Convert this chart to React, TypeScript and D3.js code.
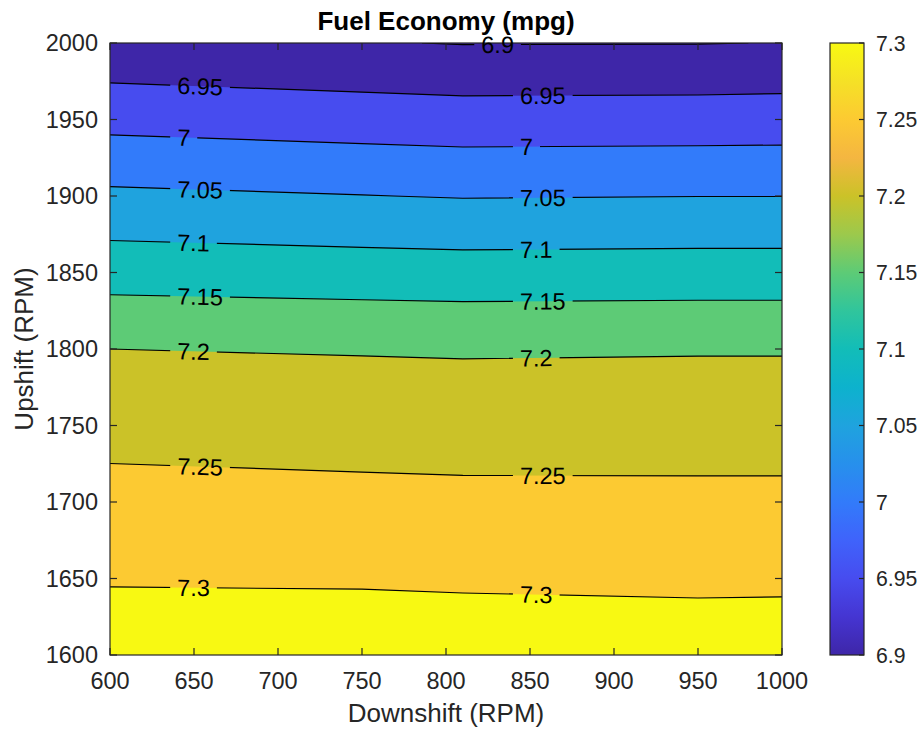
import React from "react";
import * as d3 from "d3";

// Fuel economy (mpg) sampled on the shift-speed grid
const downshiftRpm = [600, 750, 810, 950, 1000];
const upshiftRpm = [1600, 1700, 1800, 1900, 2000];
const mpgUp1600 = [7.3266, 7.328, 7.3263, 7.3232, 7.324];
const mpgUp1700 = [7.2668, 7.2629, 7.2614, 7.2609, 7.2609];
const mpgUp1800 = [7.2, 7.197, 7.1958, 7.197, 7.197];
const mpgUp1900 = [7.059, 7.051, 7.0478, 7.0495, 7.0495];
const mpgUp2000 = [6.9115, 6.9022, 6.8985, 6.8988, 6.9008];

const contourLevels = [6.9, 6.95, 7, 7.05, 7.1, 7.15, 7.2, 7.25, 7.3];
const downshiftTicks = [600, 650, 700, 750, 800, 850, 900, 950, 1000];
const upshiftTicks = [1600, 1650, 1700, 1750, 1800, 1850, 1900, 1950, 2000];
const colorbarTicks = [6.9, 6.95, 7, 7.05, 7.1, 7.15, 7.2, 7.25, 7.3];

// parula-style colour map, evenly spaced stops from low to high
const parulaStops = [
  "#3e26a8", "#4535d2", "#474cef", "#3f63fb", "#327bfa", "#2790ec",
  "#1fa3de", "#0db2cd", "#12bdb8", "#30c59c", "#5dcb76", "#9cc94c",
  "#cbc228", "#f4b641", "#fcca32", "#f5e126", "#f8f912",
];

// layout
const W = 922;
const H = 731;
const PLOT = { left: 110, right: 782, top: 43, bottom: 655 };
const CBAR = { left: 830, right: 864 };
const FONT = "'Liberation Sans', Arial, Helvetica, sans-serif";
const AXIS_COLOR = "#262626";
const TICK_FONT = 23.5;
const LABEL_FONT = 26;
const CBAR_FONT = 21.2;
const CLABEL_FONT = 23.5;
const TICK_LEN = 7;
const LINE_W = 1.2;

// where inline contour labels begin (downshift RPM)
const labelStarts = [640, 844];
const lowestLabelStart = 821;

function textWidth(s: string, size: number) {
  let w = 0;
  for (const c of s) w += c === "." ? 0.278 : 0.556;
  return w * size;
}

type Pt = [number, number];

export default function App() {
  const x = d3.scaleLinear().domain([600, 1000]).range([PLOT.left, PLOT.right]);
  const y = d3.scaleLinear().domain([1600, 2000]).range([PLOT.bottom, PLOT.top]);
  const nx = downshiftRpm.length;
  const ny = upshiftRpm.length;
  const colRpm = d3.scaleLinear().domain(downshiftRpm.map((_, i) => i)).range(downshiftRpm);
  const rowRpm = d3.scaleLinear().domain(upshiftRpm.map((_, i) => i)).range(upshiftRpm);
  const rows = [mpgUp1600, mpgUp1700, mpgUp1800, mpgUp1900, mpgUp2000];
  const values = rows.flat();

  const cmap = d3
    .scaleLinear<string>()
    .domain(parulaStops.map((_, i) => i / (parulaStops.length - 1)))
    .range(parulaStops)
    .interpolate(d3.interpolateRgb)
    .clamp(true);
  const tOf = d3.scaleLinear().domain([6.9, 7.3]).range([0, 1]);

  const toPx = (p: number[]): Pt => {
    const gi = Math.max(0, Math.min(nx - 1, p[0] - 0.5));
    const gj = Math.max(0, Math.min(ny - 1, p[1] - 0.5));
    return [x(colRpm(gi)), y(rowRpm(gj))];
  };

  const bands = d3.contours().size([nx, ny]).thresholds(contourLevels)(values);

  const eps = 0.01;
  const sameBorder = (a: Pt, b: Pt) =>
    (Math.abs(a[0] - PLOT.left) < eps && Math.abs(b[0] - PLOT.left) < eps) ||
    (Math.abs(a[0] - PLOT.right) < eps && Math.abs(b[0] - PLOT.right) < eps) ||
    (Math.abs(a[1] - PLOT.top) < eps && Math.abs(b[1] - PLOT.top) < eps) ||
    (Math.abs(a[1] - PLOT.bottom) < eps && Math.abs(b[1] - PLOT.bottom) < eps);

  const bandData = bands.map((b) => {
    const rings: Pt[][] = [];
    b.coordinates.forEach((poly) => poly.forEach((ring) => rings.push(ring.map(toPx))));
    const fillPath = rings
      .map((r) => "M" + r.map((p) => `${p[0].toFixed(2)},${p[1].toFixed(2)}`).join("L") + "Z")
      .join("");
    const segs: [Pt, Pt][] = [];
    let linePath = "";
    rings.forEach((r) => {
      let open = false;
      for (let i = 0; i < r.length; i++) {
        const a = r[i];
        const c = r[(i + 1) % r.length];
        const len = Math.hypot(c[0] - a[0], c[1] - a[1]);
        if (len < 1e-6 || sameBorder(a, c)) {
          open = false;
          continue;
        }
        segs.push([a, c]);
        if (!open) linePath += `M${a[0].toFixed(2)},${a[1].toFixed(2)}`;
        linePath += `L${c[0].toFixed(2)},${c[1].toFixed(2)}`;
        open = true;
      }
    });
    return { value: b.value, fillPath, linePath, segs };
  });

  const lineAt = (segs: [Pt, Pt][], px: number) => {
    for (const [a, b] of segs) {
      const lo = Math.min(a[0], b[0]);
      const hi = Math.max(a[0], b[0]);
      if (px >= lo && px <= hi && hi - lo > 1e-6) {
        const t = (px - a[0]) / (b[0] - a[0]);
        const yy = a[1] + t * (b[1] - a[1]);
        let ang = (Math.atan2(b[1] - a[1], b[0] - a[0]) * 180) / Math.PI;
        if (ang > 90) ang -= 180;
        if (ang < -90) ang += 180;
        return { y: yy, angle: ang };
      }
    }
    return null;
  };

  const labels: { text: string; cx: number; cy: number; angle: number; w: number }[] = [];
  bandData.forEach((bd) => {
    const text = String(bd.value);
    const w = textWidth(text, CLABEL_FONT);
    const starts = bd.value === contourLevels[0] ? [lowestLabelStart] : labelStarts;
    starts.forEach((s) => {
      const cx = x(s) + w / 2;
      const hit = lineAt(bd.segs, cx);
      if (hit) labels.push({ text, cx, cy: hit.y, angle: hit.angle, w });
    });
  });

  const plotW = PLOT.right - PLOT.left;
  const plotH = PLOT.bottom - PLOT.top;
  const cbY = d3.scaleLinear().domain([6.9, 7.3]).range([PLOT.bottom, PLOT.top]);

  return (
    <svg
      width={W}
      height={H}
      viewBox={`0 0 ${W} ${H}`}
      style={{ position: "absolute", left: 0, top: 0, background: "#fff" }}
      fontFamily={FONT}
    >
      <defs>
        <clipPath id="plotClip">
          <rect x={PLOT.left} y={PLOT.top} width={plotW} height={plotH} />
        </clipPath>
        <mask id="labelGaps" maskUnits="userSpaceOnUse" x={0} y={0} width={W} height={H}>
          <rect x={0} y={0} width={W} height={H} fill="#fff" />
          {labels.map((l, i) => (
            <rect
              key={i}
              x={l.cx - (l.w + 14) / 2}
              y={l.cy - 8}
              width={l.w + 14}
              height={16}
              fill="#000"
              transform={`rotate(${l.angle} ${l.cx} ${l.cy})`}
            />
          ))}
        </mask>
        <linearGradient id="parulaBar" x1="0" y1="1" x2="0" y2="0">
          {parulaStops.map((c, i) => (
            <stop key={i} offset={i / (parulaStops.length - 1)} stopColor={c} />
          ))}
        </linearGradient>
      </defs>

      <rect x={0} y={0} width={W} height={H} fill="#fff" />

      {/* filled contour bands */}
      <g clipPath="url(#plotClip)">
        <rect x={PLOT.left} y={PLOT.top} width={plotW} height={plotH} fill={cmap(0)} />
        {bandData.map((bd, i) => (
          <path key={i} d={bd.fillPath} fill={cmap(tOf(bd.value))} fillRule="evenodd" />
        ))}
      </g>

      {/* contour lines with gaps for labels */}
      <g clipPath="url(#plotClip)" mask="url(#labelGaps)">
        {bandData.map((bd, i) => (
          <path key={i} d={bd.linePath} fill="none" stroke="#000" strokeWidth={LINE_W} strokeLinejoin="round" />
        ))}
      </g>

      {/* axes box and ticks */}
      <rect
        x={PLOT.left}
        y={PLOT.top}
        width={plotW}
        height={plotH}
        fill="none"
        stroke={AXIS_COLOR}
        strokeWidth={1.2}
      />
      {downshiftTicks.map((t) => (
        <g key={"xt" + t} stroke={AXIS_COLOR} strokeWidth={1.2}>
          <line x1={x(t)} x2={x(t)} y1={PLOT.bottom} y2={PLOT.bottom - TICK_LEN} />
          <line x1={x(t)} x2={x(t)} y1={PLOT.top} y2={PLOT.top + TICK_LEN} />
        </g>
      ))}
      {upshiftTicks.map((t) => (
        <g key={"yt" + t} stroke={AXIS_COLOR} strokeWidth={1.2}>
          <line x1={PLOT.left} x2={PLOT.left + TICK_LEN} y1={y(t)} y2={y(t)} />
          <line x1={PLOT.right} x2={PLOT.right - TICK_LEN} y1={y(t)} y2={y(t)} />
        </g>
      ))}
      {downshiftTicks.map((t) => (
        <text
          key={"xl" + t}
          x={x(t)}
          y={689}
          textAnchor="middle"
          fontSize={TICK_FONT}
          fill={AXIS_COLOR}
        >
          {String(t)}
        </text>
      ))}
      {upshiftTicks.map((t) => (
        <text
          key={"yl" + t}
          x={98}
          y={y(t) + 0.358 * TICK_FONT}
          textAnchor="end"
          fontSize={TICK_FONT}
          fill={AXIS_COLOR}
        >
          {String(t)}
        </text>
      ))}

      {/* contour labels */}
      {labels.map((l, i) => (
        <text
          key={"cl" + i}
          x={l.cx}
          y={l.cy + 0.358 * CLABEL_FONT}
          textAnchor="middle"
          fontSize={CLABEL_FONT}
          fill="#000"
          transform={`rotate(${l.angle} ${l.cx} ${l.cy})`}
        >
          {l.text}
        </text>
      ))}

      {/* axis titles */}
      <text x={(PLOT.left + PLOT.right) / 2} y={722} textAnchor="middle" fontSize={LABEL_FONT} fill={AXIS_COLOR}>
        Downshift (RPM)
      </text>
      <text
        transform={`translate(33 ${(PLOT.top + PLOT.bottom) / 2}) rotate(-90)`}
        textAnchor="middle"
        fontSize={LABEL_FONT}
        fill={AXIS_COLOR}
      >
        Upshift (RPM)
      </text>
      <text
        x={(PLOT.left + PLOT.right) / 2}
        y={29.5}
        textAnchor="middle"
        fontSize={LABEL_FONT}
        fontWeight="bold"
        fill="#000"
      >
        Fuel Economy (mpg)
      </text>

      {/* colour bar */}
      <rect
        x={CBAR.left}
        y={PLOT.top}
        width={CBAR.right - CBAR.left}
        height={plotH}
        fill="url(#parulaBar)"
        stroke={AXIS_COLOR}
        strokeWidth={1.2}
      />
      {colorbarTicks.map((t) => (
        <g key={"cb" + t}>
          <line
            x1={CBAR.right}
            x2={CBAR.right - 5}
            y1={cbY(t)}
            y2={cbY(t)}
            stroke={AXIS_COLOR}
            strokeWidth={1.2}
          />
          <text x={876} y={cbY(t) + 0.358 * CBAR_FONT} fontSize={CBAR_FONT} fill={AXIS_COLOR}>
            {String(t)}
          </text>
        </g>
      ))}
    </svg>
  );
}
